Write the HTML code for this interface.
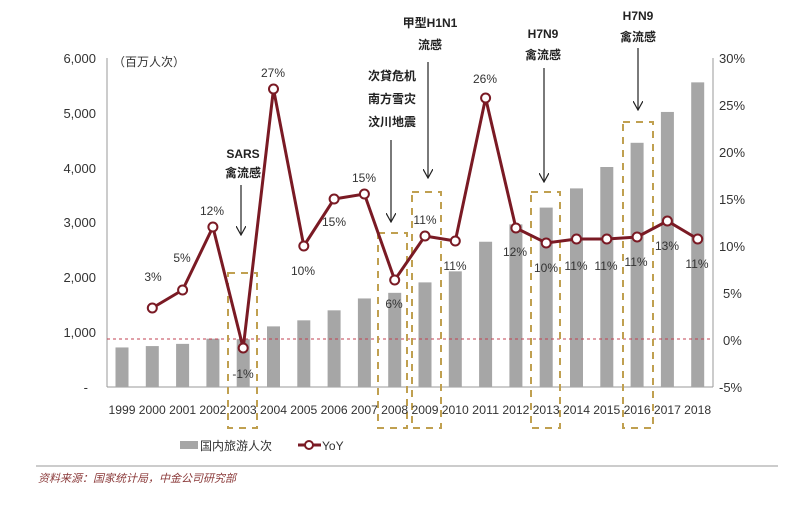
<!DOCTYPE html>
<html><head><meta charset="utf-8"><style>
body{margin:0;background:#fff;width:800px;height:500px;overflow:hidden}
text{font-family:"Liberation Sans","Noto Sans CJK SC",sans-serif}
</style></head><body>
<svg width="800" height="500" xmlns="http://www.w3.org/2000/svg">
<defs><marker id="ah" markerWidth="10" markerHeight="10" refX="9" refY="5" orient="auto" markerUnits="userSpaceOnUse"><path d="M0,0 L9,5 L0,10" fill="none" stroke="#222" stroke-width="1.2"/></marker></defs>
<g stroke="#999" stroke-width="1">
<line x1="107" y1="58" x2="107" y2="387"/>
<line x1="713" y1="58" x2="713" y2="387"/>
<line x1="107" y1="387" x2="713" y2="387"/>
</g>
<g font-size="13" fill="#333" text-anchor="end">
<text x="96" y="63">6,000</text><text x="96" y="118">5,000</text><text x="96" y="173">4,000</text>
<text x="96" y="227">3,000</text><text x="96" y="282">2,000</text><text x="96" y="337">1,000</text><text x="88" y="392">-</text>
</g>
<g font-size="13" fill="#333">
<text x="719" y="63">30%</text><text x="719" y="110">25%</text><text x="719" y="157">20%</text>
<text x="719" y="204">15%</text><text x="719" y="251">10%</text><text x="723" y="298">5%</text>
<text x="723" y="345">0%</text><text x="719" y="392">-5%</text>
</g>
<text x="113" y="66" font-size="12" fill="#333">（百万人次）</text>
<g fill="#a6a6a6" id="bars"></g>
<line x1="107" y1="339" x2="713" y2="339" stroke="#c04050" stroke-width="1" stroke-dasharray="3,3"/>
<g fill="none" stroke="#c0a050" stroke-width="2" stroke-dasharray="7,6">
<rect x="228" y="273" width="29" height="155"/>
<rect x="378" y="233" width="29" height="195"/>
<rect x="412" y="192" width="29" height="236"/>
<rect x="531" y="192" width="29" height="236"/>
<rect x="623" y="122" width="30" height="306"/>
</g>
<g id="line"></g>
<g font-size="12" fill="#333" text-anchor="middle" id="years"></g>
<g font-size="12" fill="#333" text-anchor="middle">
<text x="153" y="281">3%</text><text x="182" y="262">5%</text><text x="212" y="215">12%</text>
<text x="243" y="378">-1%</text><text x="273" y="77">27%</text><text x="303" y="275">10%</text>
<text x="334" y="226">15%</text><text x="364" y="182">15%</text><text x="394" y="308">6%</text>
<text x="425" y="224">11%</text><text x="455" y="270">11%</text><text x="485" y="83">26%</text>
<text x="515" y="256">12%</text><text x="546" y="272">10%</text><text x="576" y="270">11%</text>
<text x="606" y="270">11%</text><text x="636" y="266">11%</text><text x="667" y="250">13%</text><text x="697" y="268">11%</text>
</g>
<g stroke="#222" stroke-width="1.2" marker-end="url(#ah)">
<line x1="241" y1="185" x2="241" y2="235"/>
<line x1="391" y1="140" x2="391" y2="222"/>
<line x1="428" y1="62" x2="428" y2="178"/>
<line x1="544" y1="68" x2="544" y2="182"/>
<line x1="638" y1="48" x2="638" y2="110"/>
</g>
<g font-size="12" font-weight="bold" fill="#222" text-anchor="middle">
<text x="243" y="158">SARS</text><text x="243" y="177">禽流感</text>
<text x="392" y="80">次貸危机</text><text x="392" y="103">南方雪灾</text><text x="392" y="126">汶川地震</text>
<text x="430" y="27">甲型H1N1</text><text x="430" y="49">流感</text>
<text x="543" y="38">H7N9</text><text x="543" y="59">禽流感</text>
<text x="638" y="20">H7N9</text><text x="638" y="41">禽流感</text>
</g>
<rect x="180" y="441" width="18" height="8" fill="#a6a6a6"/>
<text x="200" y="450" font-size="12" fill="#333">国内旅游人次</text>
<line x1="298" y1="445" x2="321" y2="445" stroke="#7a1a24" stroke-width="3"/>
<circle cx="309" cy="445" r="4" fill="#fff" stroke="#7a1a24" stroke-width="2"/>
<text x="322" y="450" font-size="12" fill="#333">YoY</text>
<line x1="36" y1="466" x2="778" y2="466" stroke="#999" stroke-width="1"/>
<text x="38" y="482" font-size="11" font-style="italic" fill="#8b3a3a">资料来源：国家统计局，中金公司研究部</text>
</svg>
<script>
var v=[719,744,784,878,870,1102,1212,1394,1610,1712,1902,2103,2641,2957,3262,3611,4000,4440,5001,5539];
var ly=[null,308,290,227,348,89,246,199,194,280,236,241,98,228,243,239,239,237,221,239];
var ns="http://www.w3.org/2000/svg",b=document.getElementById('bars'),yr=document.getElementById('years'),ln=document.getElementById('line');
var pts=[];
for(var i=0;i<20;i++){var cx=122+i*30.3;var h=v[i]*0.055;
var r=document.createElementNS(ns,'rect');r.setAttribute('x',cx-6.5);r.setAttribute('y',387-h);r.setAttribute('width',13);r.setAttribute('height',h);b.appendChild(r);
var t=document.createElementNS(ns,'text');t.setAttribute('x',cx);t.setAttribute('y',414);t.setAttribute('textLength',27);t.setAttribute('lengthAdjust','spacingAndGlyphs');t.textContent=1999+i;yr.appendChild(t);
if(ly[i]!==null)pts.push([cx,ly[i]]);}
var p=document.createElementNS(ns,'polyline');p.setAttribute('points',pts.map(function(a){return a.join(',')}).join(' '));
p.setAttribute('fill','none');p.setAttribute('stroke','#7a1a24');p.setAttribute('stroke-width','3');ln.appendChild(p);
pts.forEach(function(a){var c=document.createElementNS(ns,'circle');c.setAttribute('cx',a[0]);c.setAttribute('cy',a[1]);c.setAttribute('r',4.5);c.setAttribute('fill','#fff');c.setAttribute('stroke','#7a1a24');c.setAttribute('stroke-width','2');ln.appendChild(c);});
</script>
</body></html>
